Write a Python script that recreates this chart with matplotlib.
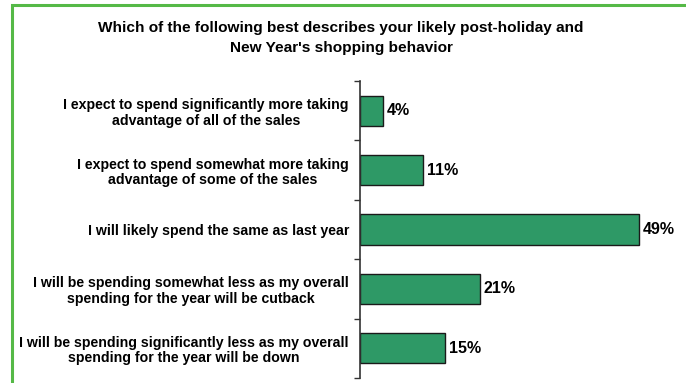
import matplotlib.pyplot as plt
from matplotlib.patches import Rectangle

plt.rcParams['font.family'] = ['Liberation Sans', 'DejaVu Sans']

# 調査の回答項目と割合
answers = [
    "I expect to spend significantly more taking\nadvantage of all of the sales",
    "I expect to spend somewhat more taking\nadvantage of some of the sales",
    "I will likely spend the same as last year",
    "I will be spending somewhat less as my overall\nspending for the year will be cutback",
    "I will be spending significantly less as my overall\nspending for the year will be down",
]
shares = [4, 11, 49, 21, 15]
share_labels = ["4%", "11%", "49%", "21%", "15%"]

title = "Which of the following best describes your likely post-holiday and\nNew Year's shopping behavior"

W, H = 686, 383
fig = plt.figure(figsize=(W / 100, H / 100), dpi=100)

# 外枠（緑）
fig.patches.append(Rectangle((11.5 / W, -0.1), 1.2, (H - 5) / H + 0.1,
                             transform=fig.transFigure, fill=False,
                             edgecolor='#55b947', linewidth=2.2))

ax = fig.add_axes([360 / W, 5 / H, 320 / W, 297 / H])
pos = list(range(len(answers)))
ax.barh(pos, shares, height=0.51, color='#2e9966', edgecolor='#1a1a1a', linewidth=1)
ax.set_ylim(len(answers) - 0.5, -0.5)
ax.set_xlim(0, 320 / 5.694)

for p, v, lab in zip(pos, shares, share_labels):
    ax.text(v + 0.7, p, lab, va='center', ha='left', fontsize=11.5, fontweight='bold')

# 項目の区切りに目盛り
ax.set_yticks([p - 0.5 for p in pos] + [len(answers) - 0.5])
ax.set_yticklabels([])
ax.tick_params(axis='y', length=4, width=1, color='#333333')
ax.set_yticks(pos, minor=True)
ax.set_yticklabels(answers, minor=True, fontsize=10.2, fontweight='bold', ha='right',
                   multialignment='center', linespacing=1.15)
ax.tick_params(axis='y', which='minor', length=0, pad=8)

ax.set_xticks([])
for s in ['top', 'right', 'bottom']:
    ax.spines[s].set_visible(False)
ax.spines['left'].set_color('#333333')
ax.spines['left'].set_linewidth(1.2)

fig.text(341 / W, 1 - 38 / H, title, ha='center', va='center', fontsize=11.1,
         fontweight='bold', linespacing=1.55)

fig.savefig('out.png', dpi=100)
